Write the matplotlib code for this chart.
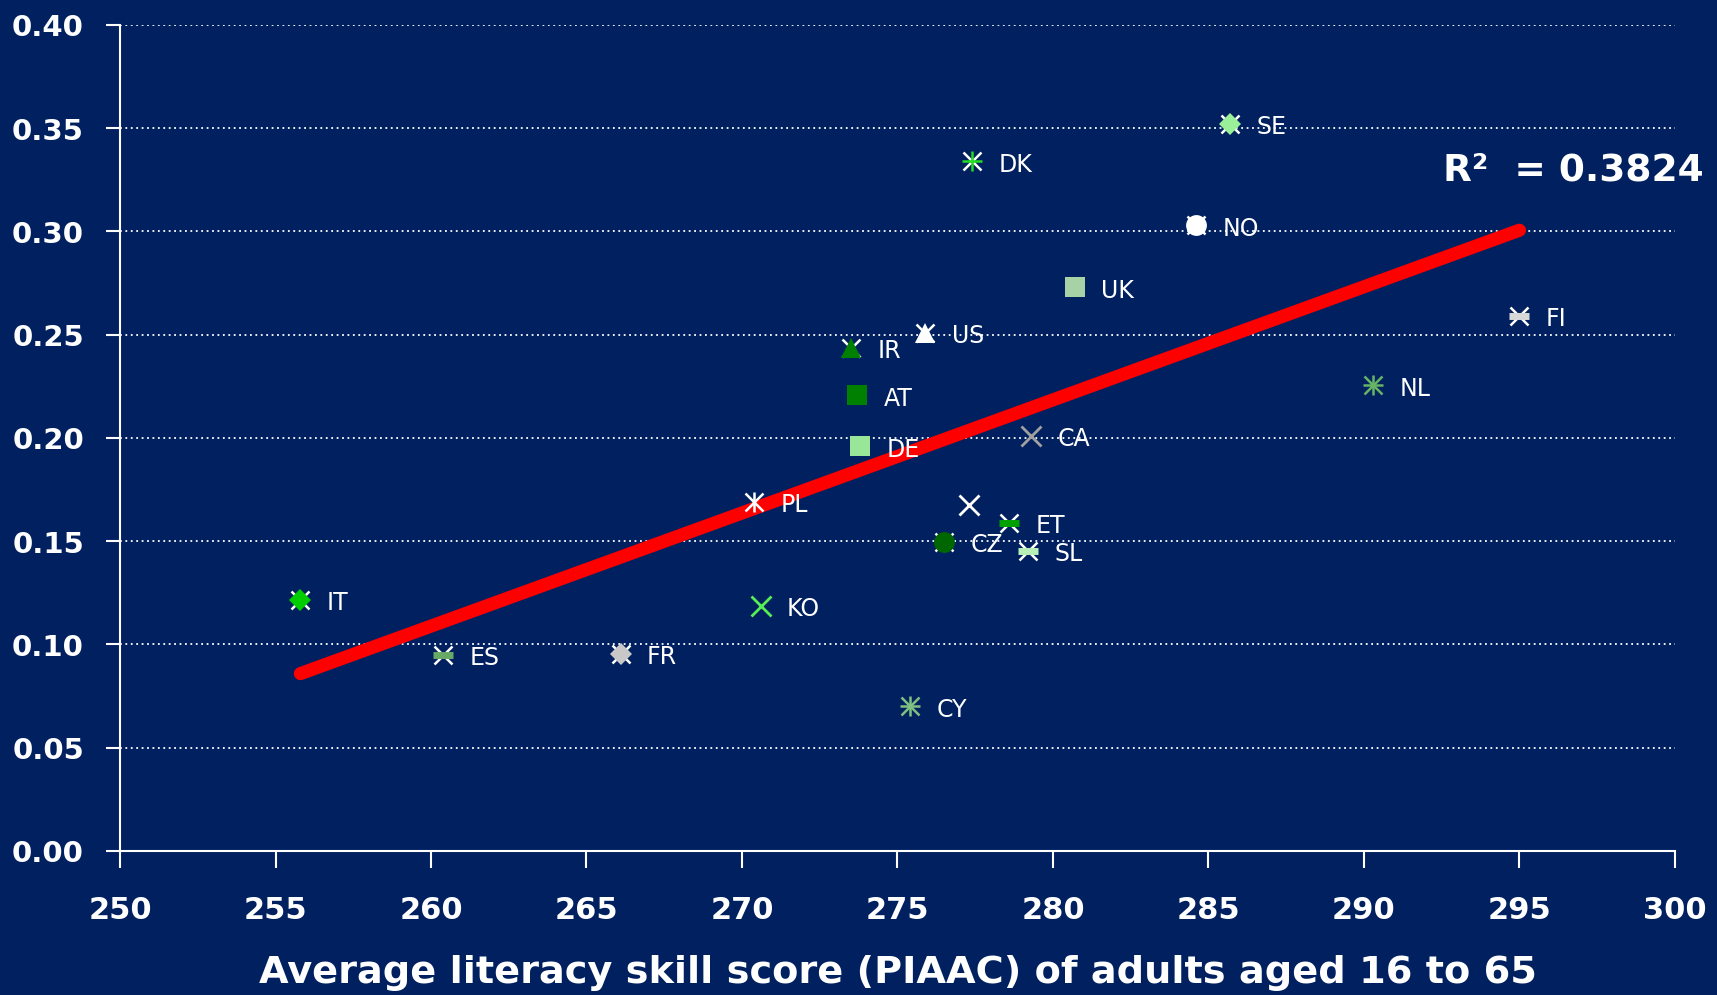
import numpy as np
import matplotlib.pyplot as plt

# literacy score (x) vs. value (y)
countries = ['SE', 'DK', 'NO', 'UK', 'US', 'IR', 'AT', 'DE', 'CA', 'FI', 'NL',
             'PL', '', 'ET', 'CZ', 'SL', 'KO', 'IT', 'ES', 'FR', 'CY']
scores = [285.7, 277.4, 284.6, 280.7, 275.9, 273.5, 273.7, 273.8, 279.3, 295.0, 290.3,
          270.4, 277.3, 278.6, 276.5, 279.2, 270.6, 255.8, 260.4, 266.1, 275.4]
values = [0.352, 0.334, 0.303, 0.273, 0.251, 0.2435, 0.2207, 0.196, 0.201, 0.259, 0.2255,
          0.169, 0.1676, 0.159, 0.1496, 0.1454, 0.1188, 0.1215, 0.095, 0.0955, 0.070]
r2_label = 'R²  = 0.3824'

# marker style per country: (main marker, colour, colour of x underneath or None)
styles = {
    'SE': ('D', '#99F099', 'white'),
    'DK': ('+', '#22DD22', 'white'),
    'NO': ('o', 'white', 'white'),
    'UK': ('s', '#A6D2A6', None),
    'US': ('^', 'white', 'white'),
    'IR': ('^', '#008000', 'white'),
    'AT': ('s', '#008000', None),
    'DE': ('s', '#99E699', None),
    'CA': ('x', '#A0A0A0', None),
    'FI': ('_', '#D8D8D8', 'white'),
    'NL': ('+', '#66B566', '#66B566'),
    'PL': ('|', 'white', 'white'),
    '': ('x', 'white', None),
    'ET': ('_', '#00A000', 'white'),
    'CZ': ('o', '#006600', 'white'),
    'SL': ('_', '#B8F0B8', 'white'),
    'KO': ('x', '#55EE55', None),
    'IT': ('D', '#00CC00', 'white'),
    'ES': ('_', '#66AA66', 'white'),
    'FR': ('D', '#C8C8C8', 'white'),
    'CY': ('+', '#80C080', '#80C080'),
}

bg = '#002060'
plt.rcParams['font.family'] = ['DejaVu Sans']

fig = plt.figure(figsize=(17.17, 9.955), dpi=100, facecolor=bg)
ax = fig.add_axes([0.0699, 0.1447, 0.9056, 0.8297])
ax.set_facecolor(bg)

# trend line over the data range
coef = np.polyfit(scores, values, 1)
tx = np.array([min(scores), max(scores)])
ax.plot(tx, np.polyval(coef, tx), color='#FF0000', lw=9.5, solid_capstyle='round', zorder=2)

for c, x, y in zip(countries, scores, values):
    m, col, under = styles[c]
    if under is not None:
        ax.plot(x, y, marker='x', ms=13, mew=1.8, color=under, ls='none', zorder=3)
    if m in ('+', '|'):
        ax.plot(x, y, marker=m, ms=14, mew=1.8, color=col, ls='none', zorder=4)
    elif m == '_':
        ax.plot(x, y, marker='_', ms=15, mew=5, color=col, ls='none', zorder=4)
    elif m == 'x':
        ax.plot(x, y, marker='x', ms=14, mew=2, color=col, ls='none', zorder=4)
    elif m == 'D':
        ax.plot(x, y, marker='D', ms=11, mew=0, color=col, ls='none', zorder=4)
    else:
        ax.plot(x, y, marker=m, ms=15, mew=0, color=col, ls='none', zorder=4)
    if c:
        ax.annotate(c, (x, y), xytext=(19, -2), textcoords='offset points',
                    color='white', fontsize=17, va='center', ha='left', zorder=5)

ax.set_xlim(250, 300)
ax.set_ylim(0, 0.40)
ax.set_xticks(np.arange(250, 301, 5))
ax.set_yticks(np.arange(0, 0.401, 0.05))
ax.yaxis.set_major_formatter(plt.FormatStrFormatter('%.2f'))
ax.grid(axis='y', color='white', ls=(0, (1, 2)), lw=1.3)
ax.set_axisbelow(True)

for s in ['top', 'right']:
    ax.spines[s].set_visible(False)
for s in ['left', 'bottom']:
    ax.spines[s].set_color('white')
    ax.spines[s].set_linewidth(1.5)

ax.tick_params(axis='y', colors='white', length=10, width=1.5, pad=16, labelsize=21)
ax.tick_params(axis='x', colors='white', length=12, width=1.5, pad=20, labelsize=22)
for lab in ax.get_xticklabels() + ax.get_yticklabels():
    lab.set_fontweight('bold')

ax.set_xlabel('Average literacy skill score (PIAAC) of adults aged 16 to 65',
              color='white', fontsize=27.5, fontweight='bold', labelpad=22)

fig.text(0.992, 0.829, r2_label, color='white', fontsize=27, fontweight='bold',
         ha='right', va='center')

fig.savefig('out.png', dpi=100, facecolor=bg)
